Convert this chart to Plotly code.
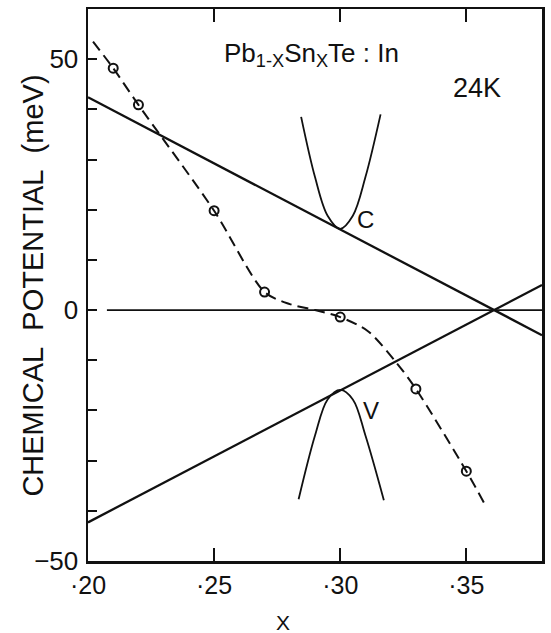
import plotly.graph_objects as go

# ---- data ----
# measured chemical potential (open circles)
x_meas = [0.210, 0.220, 0.250, 0.270, 0.300, 0.330, 0.350]
mu_meas = [48.2, 40.9, 19.8, 3.6, -1.4, -15.7, -32.1]

# dashed guide curve through the points (incl. its visible ends and the knee)
x_guide = [0.202, 0.210, 0.220, 0.250, 0.270, 0.280, 0.290, 0.300, 0.311, 0.322, 0.330, 0.350, 0.358]
mu_guide = [53.5, 48.2, 40.9, 19.8, 3.6, 1.2, 0.0, -1.4, -4.2, -10.3, -15.7, -32.1, -39.3]

# conduction (C) and valence (V) band-edge lines
x_edge = [0.20, 0.38]
c_edge = [42.4, -5.0]
v_edge = [-42.3, 5.0]

# zero reference line
x_zero = [0.2075, 0.38]
y_zero = [0.0, 0.0]

# sketched band parabolas
x_cband = [0.2845, 0.290, 0.295, 0.300, 0.305, 0.310, 0.3160]
y_cband = [38.5, 26.5, 18.8, 16.2, 18.8, 26.5, 39.0]
x_vband = [0.2835, 0.290, 0.295, 0.300, 0.305, 0.310, 0.3173]
y_vband = [-37.7, -25.0, -17.8, -15.9, -17.8, -25.0, -37.9]

x_tickvals = [0.20, 0.25, 0.30, 0.35]
x_ticktext = ["·20", "·25", "·30", "·35"]
y_tickvals = [-50, 0, 50]
y_ticktext = ["−50", "0", "50"]

FONT = "Liberation Sans, Arial, Helvetica, sans-serif"
BLACK = "#111111"

fig = go.Figure()

fig.add_trace(go.Scatter(x=x_zero, y=y_zero, mode="lines",
                         line=dict(color=BLACK, width=1.8), hoverinfo="skip"))
fig.add_trace(go.Scatter(x=x_edge, y=c_edge, mode="lines",
                         line=dict(color=BLACK, width=2.3), hoverinfo="skip"))
fig.add_trace(go.Scatter(x=x_edge, y=v_edge, mode="lines",
                         line=dict(color=BLACK, width=2.3), hoverinfo="skip"))
fig.add_trace(go.Scatter(x=x_cband, y=y_cband, mode="lines",
                         line=dict(color=BLACK, width=1.8, shape="spline", smoothing=1.0),
                         hoverinfo="skip"))
fig.add_trace(go.Scatter(x=x_vband, y=y_vband, mode="lines",
                         line=dict(color=BLACK, width=1.8, shape="spline", smoothing=1.0),
                         hoverinfo="skip"))
fig.add_trace(go.Scatter(x=x_guide, y=mu_guide, mode="lines",
                         line=dict(color=BLACK, width=2.0, dash="11px,6px",
                                   shape="spline", smoothing=0.8),
                         hoverinfo="skip"))
fig.add_trace(go.Scatter(x=x_meas, y=mu_meas, mode="markers",
                         marker=dict(symbol="circle-open", size=9, color=BLACK,
                                     line=dict(width=2.0, color=BLACK))))

fig.update_layout(
    width=551, height=633,
    margin=dict(l=88, r=6, t=7, b=72),
    paper_bgcolor="white", plot_bgcolor="white",
    showlegend=False,
    font=dict(family=FONT, color=BLACK, size=22),
    xaxis=dict(range=[0.20, 0.38], tickvals=x_tickvals, ticktext=x_ticktext,
               ticks="inside", ticklen=13, tickwidth=2, tickcolor=BLACK,
               showline=True, linewidth=2.5, linecolor=BLACK, mirror="ticks",
               showgrid=False, zeroline=False,
               tickfont=dict(family=FONT, size=25, color=BLACK)),
    yaxis=dict(range=[-50, 60], tickvals=y_tickvals, ticktext=y_ticktext,
               ticks="inside", ticklen=9, tickwidth=2, tickcolor=BLACK,
               minor=dict(dtick=10, ticks="inside", ticklen=9, tickwidth=2,
                          tickcolor=BLACK, showgrid=False),
               showline=True, linewidth=2.5, linecolor=BLACK, mirror=True,
               showgrid=False, zeroline=False, ticklabelstandoff=2,
               tickfont=dict(family=FONT, size=26, color=BLACK)),
)

NB = "\u00a0"
annotations = [
    dict(text=f"CHEMICAL{NB}{NB}POTENTIAL{NB}{NB}(meV)", xref="paper", yref="paper",
         x=-0.120, y=0.498, textangle=-90, showarrow=False,
         xanchor="center", yanchor="middle", font=dict(size=29)),
    dict(text="X", xref="paper", yref="paper", x=0.429, y=-0.112,
         showarrow=False, xanchor="center", yanchor="middle", font=dict(size=21)),
    dict(text="Pb<sub>1-X</sub>Sn<sub>X</sub>Te : In", xref="paper", yref="paper",
         x=0.492, y=0.918, showarrow=False, xanchor="center", yanchor="middle",
         font=dict(size=26)),
    dict(text="24K", xref="paper", yref="paper", x=0.856, y=0.856,
         showarrow=False, xanchor="center", yanchor="middle", font=dict(size=27)),
    dict(text="C", x=0.3102, y=18.1, xref="x", yref="y", showarrow=False,
         xanchor="center", yanchor="middle", font=dict(size=24)),
    dict(text="V", x=0.3122, y=-20.0, xref="x", yref="y", showarrow=False,
         xanchor="center", yanchor="middle", font=dict(size=24)),
]
fig.update_layout(annotations=annotations)

# remove the browser's default 8px body margin so the figure fills the window exactly
fig.write_html("out.html",
               config={"displayModeBar": False, "staticPlot": True},
               post_script="document.body.style.margin='0';document.body.style.overflow='hidden';")
